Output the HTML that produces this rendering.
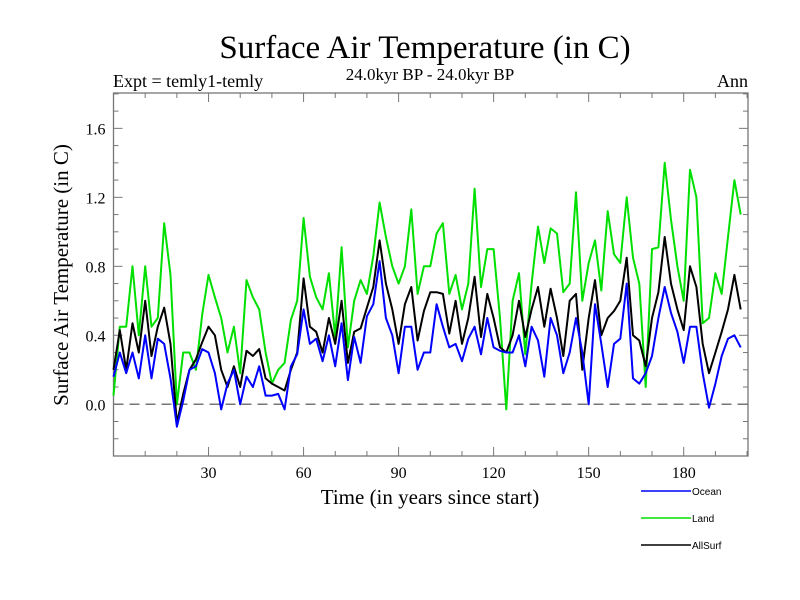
<!DOCTYPE html>
<html><head><meta charset="utf-8"><style>
html,body{margin:0;padding:0;background:#fff;}
svg{display:block;}
</style></head><body>
<svg id="chart" width="800" height="600" xmlns="http://www.w3.org/2000/svg">
<text x="425" y="58" text-anchor="middle" font-family="Liberation Serif, serif" font-size="33">Surface Air Temperature (in C)</text>
<text x="430" y="80" text-anchor="middle" font-family="Liberation Serif, serif" font-size="17">24.0kyr BP - 24.0kyr BP</text>
<text x="113" y="87" font-family="Liberation Serif, serif" font-size="18">Expt = temly1-temly</text>
<text x="748" y="87" text-anchor="end" font-family="Liberation Serif, serif" font-size="18">Ann</text>
<text transform="translate(68,275) rotate(-90)" text-anchor="middle" font-family="Liberation Serif, serif" font-size="21">Surface Air Temperature (in C)</text>
<text x="430" y="504" text-anchor="middle" font-family="Liberation Serif, serif" font-size="21">Time (in years since start)</text>
<g id="axes"></g>
<g id="series"></g>
<g id="legend"></g>
</svg>
<script>
const years = [0,2,4,6,8,10,12,14,16,18,20,22,24,26,28,30,32,34,36,38,40,42,44,46,48,50,52,54,56,58,60,62,64,66,68,70,72,74,76,78,80,82,84,86,88,90,92,94,96,98,100,102,104,106,108,110,112,114,116,118,120,122,124,126,128,130,132,134,136,138,140,142,144,146,148,150,152,154,156,158,160,162,164,166,168,170,172,174,176,178,180,182,184,186,188,190,192,194,196,198];
const landValues = [0.05,0.45,0.45,0.8,0.4,0.8,0.45,0.5,1.05,0.75,0.0,0.3,0.3,0.2,0.52,0.75,0.62,0.5,0.3,0.45,0.18,0.72,0.62,0.55,0.3,0.12,0.2,0.24,0.49,0.6,1.08,0.74,0.62,0.55,0.76,0.39,0.91,0.33,0.6,0.72,0.64,0.86,1.17,0.97,0.8,0.7,0.8,1.13,0.64,0.8,0.8,0.99,1.05,0.64,0.75,0.55,0.7,1.25,0.68,0.9,0.9,0.5,-0.03,0.6,0.76,0.29,0.7,1.03,0.82,1.02,0.99,0.65,0.7,1.23,0.6,0.82,0.95,0.66,1.12,0.87,0.82,1.2,0.85,0.7,0.1,0.9,0.91,1.4,1.07,0.8,0.6,1.36,1.2,0.47,0.5,0.76,0.64,0.97,1.3,1.1];
const allSurfValues = [0.2,0.43,0.2,0.47,0.3,0.6,0.28,0.45,0.56,0.35,-0.11,0.06,0.2,0.26,0.36,0.45,0.4,0.2,0.1,0.22,0.1,0.31,0.28,0.32,0.15,0.12,0.1,0.08,0.2,0.3,0.73,0.45,0.42,0.3,0.5,0.35,0.6,0.24,0.42,0.44,0.56,0.68,0.95,0.7,0.55,0.35,0.58,0.68,0.37,0.54,0.65,0.65,0.64,0.41,0.6,0.35,0.5,0.74,0.39,0.64,0.5,0.33,0.3,0.4,0.6,0.39,0.55,0.68,0.45,0.67,0.5,0.28,0.6,0.64,0.2,0.5,0.72,0.4,0.5,0.54,0.6,0.85,0.4,0.37,0.22,0.5,0.65,0.97,0.7,0.55,0.43,0.8,0.68,0.35,0.18,0.3,0.42,0.55,0.75,0.55];
const oceanValues = [0.16,0.3,0.18,0.3,0.15,0.4,0.15,0.38,0.35,0.15,-0.13,0.02,0.2,0.22,0.32,0.3,0.18,-0.03,0.12,0.2,0.0,0.16,0.1,0.22,0.05,0.05,0.06,-0.03,0.22,0.29,0.55,0.35,0.38,0.25,0.4,0.22,0.47,0.14,0.39,0.24,0.51,0.58,0.83,0.5,0.4,0.18,0.45,0.45,0.2,0.3,0.3,0.58,0.45,0.33,0.35,0.25,0.38,0.45,0.29,0.5,0.33,0.31,0.3,0.3,0.4,0.22,0.45,0.37,0.16,0.5,0.4,0.18,0.3,0.5,0.3,0.0,0.58,0.35,0.1,0.35,0.38,0.7,0.15,0.12,0.18,0.28,0.5,0.68,0.53,0.42,0.24,0.45,0.45,0.18,-0.02,0.12,0.28,0.38,0.4,0.33];
const yTickLabels = ["0.0","0.4","0.8","1.2","1.6"];
const yTickValues = [0,0.4,0.8,1.2,1.6];
const xTickValues = [30,60,90,120,150,180];

const L=113.5,R=748,T=93,B=456,X0=0,X1=200.3,Y0=-0.3,Y1=1.805;
const xs=v=>L+(v-X0)/(X1-X0)*(R-L);
const ys=v=>B-(v-Y0)/(Y1-Y0)*(B-T);
const NS="http://www.w3.org/2000/svg";
function mk(tag,attrs,parent){const e=document.createElementNS(NS,tag);for(const k in attrs)e.setAttribute(k,attrs[k]);parent.appendChild(e);return e;}
const axes=document.getElementById('axes');
const frame=mk('rect',{x:L,y:T,width:R-L,height:B-T,fill:'none',stroke:'#777','stroke-width':1.3},axes);


const zl=mk('line',{x1:L,x2:R,y1:ys(0),y2:ys(0),stroke:'#777','stroke-width':1.5,'stroke-dasharray':'10,6'},axes);


for(let i=-3;i<=18;i++){
  const v=i/10,y=ys(v),maj=(i%4===0);const len=maj?9:5;
  mk('line',{x1:L,x2:L+len,y1:y,y2:y,stroke:'#777','stroke-width':1},axes);
  mk('line',{x1:R,x2:R-len,y1:y,y2:y,stroke:'#777','stroke-width':1},axes);
}
yTickValues.forEach((v,i)=>{
  const t=mk('text',{x:L-8,y:ys(v)+6,'text-anchor':'end','font-family':'Liberation Serif, serif','font-size':16},axes);
  t.textContent=yTickLabels[i];
  
  
});
for(let v=10;v<=200;v+=10){
  const x=xs(v),maj=(v%30===0),len=maj?9:5;
  mk('line',{x1:x,x2:x,y1:B,y2:B-len,stroke:'#777','stroke-width':1},axes);
  mk('line',{x1:x,x2:x,y1:T,y2:T+len,stroke:'#777','stroke-width':1},axes);
}
xTickValues.forEach(v=>{
  const t=mk('text',{x:xs(v),y:B+22,'text-anchor':'middle','font-family':'Liberation Serif, serif','font-size':16},axes);
  t.textContent=String(v);
  
  
});
const ser=document.getElementById('series');
function line(vals,color,name){
  const d=vals.map((v,i)=>(i?'L':'M')+xs(years[i]).toFixed(1)+','+ys(v).toFixed(1)).join('');
  const p=mk('path',{d:d,fill:'none',stroke:color,'stroke-width':2,'stroke-linejoin':'round'},ser);
  
  
}
line(landValues,'#00e000','land-line');
line(allSurfValues,'#000000','allsurf-line');
line(oceanValues,'#0000ff','ocean-line');
const leg=document.getElementById('legend');
[['Ocean','#0000ff',491],['Land','#00e000',518],['AllSurf','#000000',545]].forEach(([n,c,y])=>{
  const g=mk('g',{},leg);
  
  
  mk('line',{x1:641,x2:691,y1:y,y2:y,stroke:c,'stroke-width':1.5},g);
  const t=mk('text',{x:692,y:y+4,'font-family':'Liberation Sans, sans-serif','font-size':10},g);
  t.textContent=n;
});
</script>
</body></html>
